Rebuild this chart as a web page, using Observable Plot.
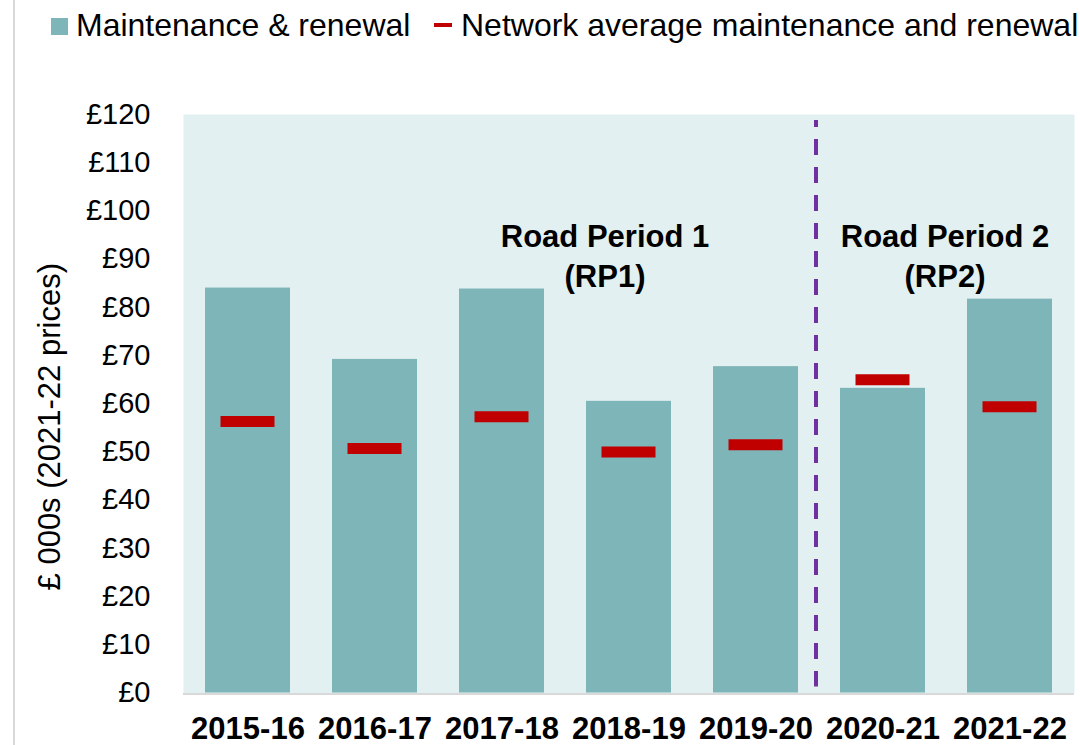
<!DOCTYPE html>
<html>
<head>
<meta charset="utf-8">
<script src="https://cdn.jsdelivr.net/npm/d3@7"></script>
<script src="https://cdn.jsdelivr.net/npm/@observablehq/plot@0.6"></script>
<style>
  html, body { margin: 0; padding: 0; background: #fff; }
  #wrap { position: relative; width: 1080px; height: 745px; font-family: "Liberation Sans", Arial, sans-serif; overflow: hidden; }
  #border { position: absolute; left: 13px; top: 0; width: 2px; height: 745px; background: #D9D9D9; }
  #legend { position: relative; height: 52px; }
  .lg-text { position: absolute; top: 9px; font-size: 32px; line-height: 32px; color: #000; white-space: nowrap; }
  .lg-swatch { position: absolute; }
  #chart svg { display: block; }
</style>
</head>
<body>
<div id="wrap">
  <div id="border"></div>
  <div id="legend"></div>
  <div id="chart"></div>
</div>
<script>
const years = ["2015-16", "2016-17", "2017-18", "2018-19", "2019-20", "2020-21", "2021-22"];
const maintenance = [84.0, 69.2, 83.8, 60.5, 67.7, 63.2, 81.7];
const networkAvg = [56.3, 50.7, 57.3, 50.0, 51.5, 65.0, 59.4];
const yTicks = [0, 10, 20, 30, 40, 50, 60, 70, 80, 90, 100, 110, 120];
const seriesNames = ["Maintenance & renewal", "Network average maintenance and renewal"];
const periodLabels = ["Road Period 1\n(RP1)", "Road Period 2\n(RP2)"];
const yTitle = "£ 000s (2021-22 prices)";

const barColor = "#7EB5B9";
const avgColor = "#C00000";

const table = years.map((y, i) => ({year: y, value: maintenance[i], avg: networkAvg[i]}));

// Legend
const legend = document.getElementById("legend");
legend.innerHTML = `
  <div class="lg-swatch" style="left:51px;top:18px;width:17px;height:17px;background:${barColor}"></div>
  <div class="lg-text" style="left:76px">${seriesNames[0].replace("&", "&amp;")}</div>
  <div class="lg-swatch" style="left:434px;top:23px;width:18px;height:4px;background:${avgColor}"></div>
  <div class="lg-text" style="left:461px">${seriesNames[1]}</div>
`;

const font = '"Liberation Sans", Arial, sans-serif';

const chart = Plot.plot({
  width: 1080,
  height: 693,
  marginTop: 62,
  marginBottom: 52.5,
  marginLeft: 183,
  marginRight: 6,
  style: {fontFamily: font, background: "transparent", overflow: "visible"},
  x: {domain: years, paddingInner: 0.333, paddingOuter: 0.1667, label: null},
  y: {domain: [0, 120], label: null},
  marks: [
    Plot.frame({fill: "#E2F0F1", stroke: null}),
    Plot.barY(table, {x: "year", y: "value", fill: barColor}),
    Plot.ruleY([0], {stroke: "#D9D9D9", strokeWidth: 2, dy: 1}),
    Plot.tickY(table, {x: "year", y: "avg", stroke: avgColor, strokeWidth: 11, insetLeft: 15.5, insetRight: 15.5}),
    Plot.ruleX([years[4]], {x: d => d, stroke: "#7030A0", strokeWidth: 4, strokeDasharray: "16,12", strokeDashoffset: 9, insetTop: 6, insetBottom: 6, dx: 60}),
    Plot.text([periodLabels[0]], {x: () => years[3], y: () => 91, text: d => d, fontSize: 31, fontWeight: "bold", lineHeight: 1.29, textAnchor: "middle", fill: "#000", dx: -24}),
    Plot.text([periodLabels[1]], {x: () => years[5], y: () => 91, text: d => d, fontSize: 31, fontWeight: "bold", lineHeight: 1.29, textAnchor: "middle", fill: "#000", dx: 62}),
    Plot.axisY({ticks: yTicks, tickFormat: d => "£" + d, tickSize: 0, tickPadding: 33, fontSize: 29, label: null, fill: "#000"}),
    Plot.axisX({tickSize: 0, tickPadding: 24, fontSize: 31, fontWeight: "bold", label: null, fill: "#000"}),
    Plot.text([yTitle], {frameAnchor: "left", text: d => d, rotate: -90, fontSize: 31, fill: "#000", dx: -133, dy: 23, textAnchor: "middle"})
  ]
});
document.getElementById("chart").appendChild(chart);
</script>
</body>
</html>
